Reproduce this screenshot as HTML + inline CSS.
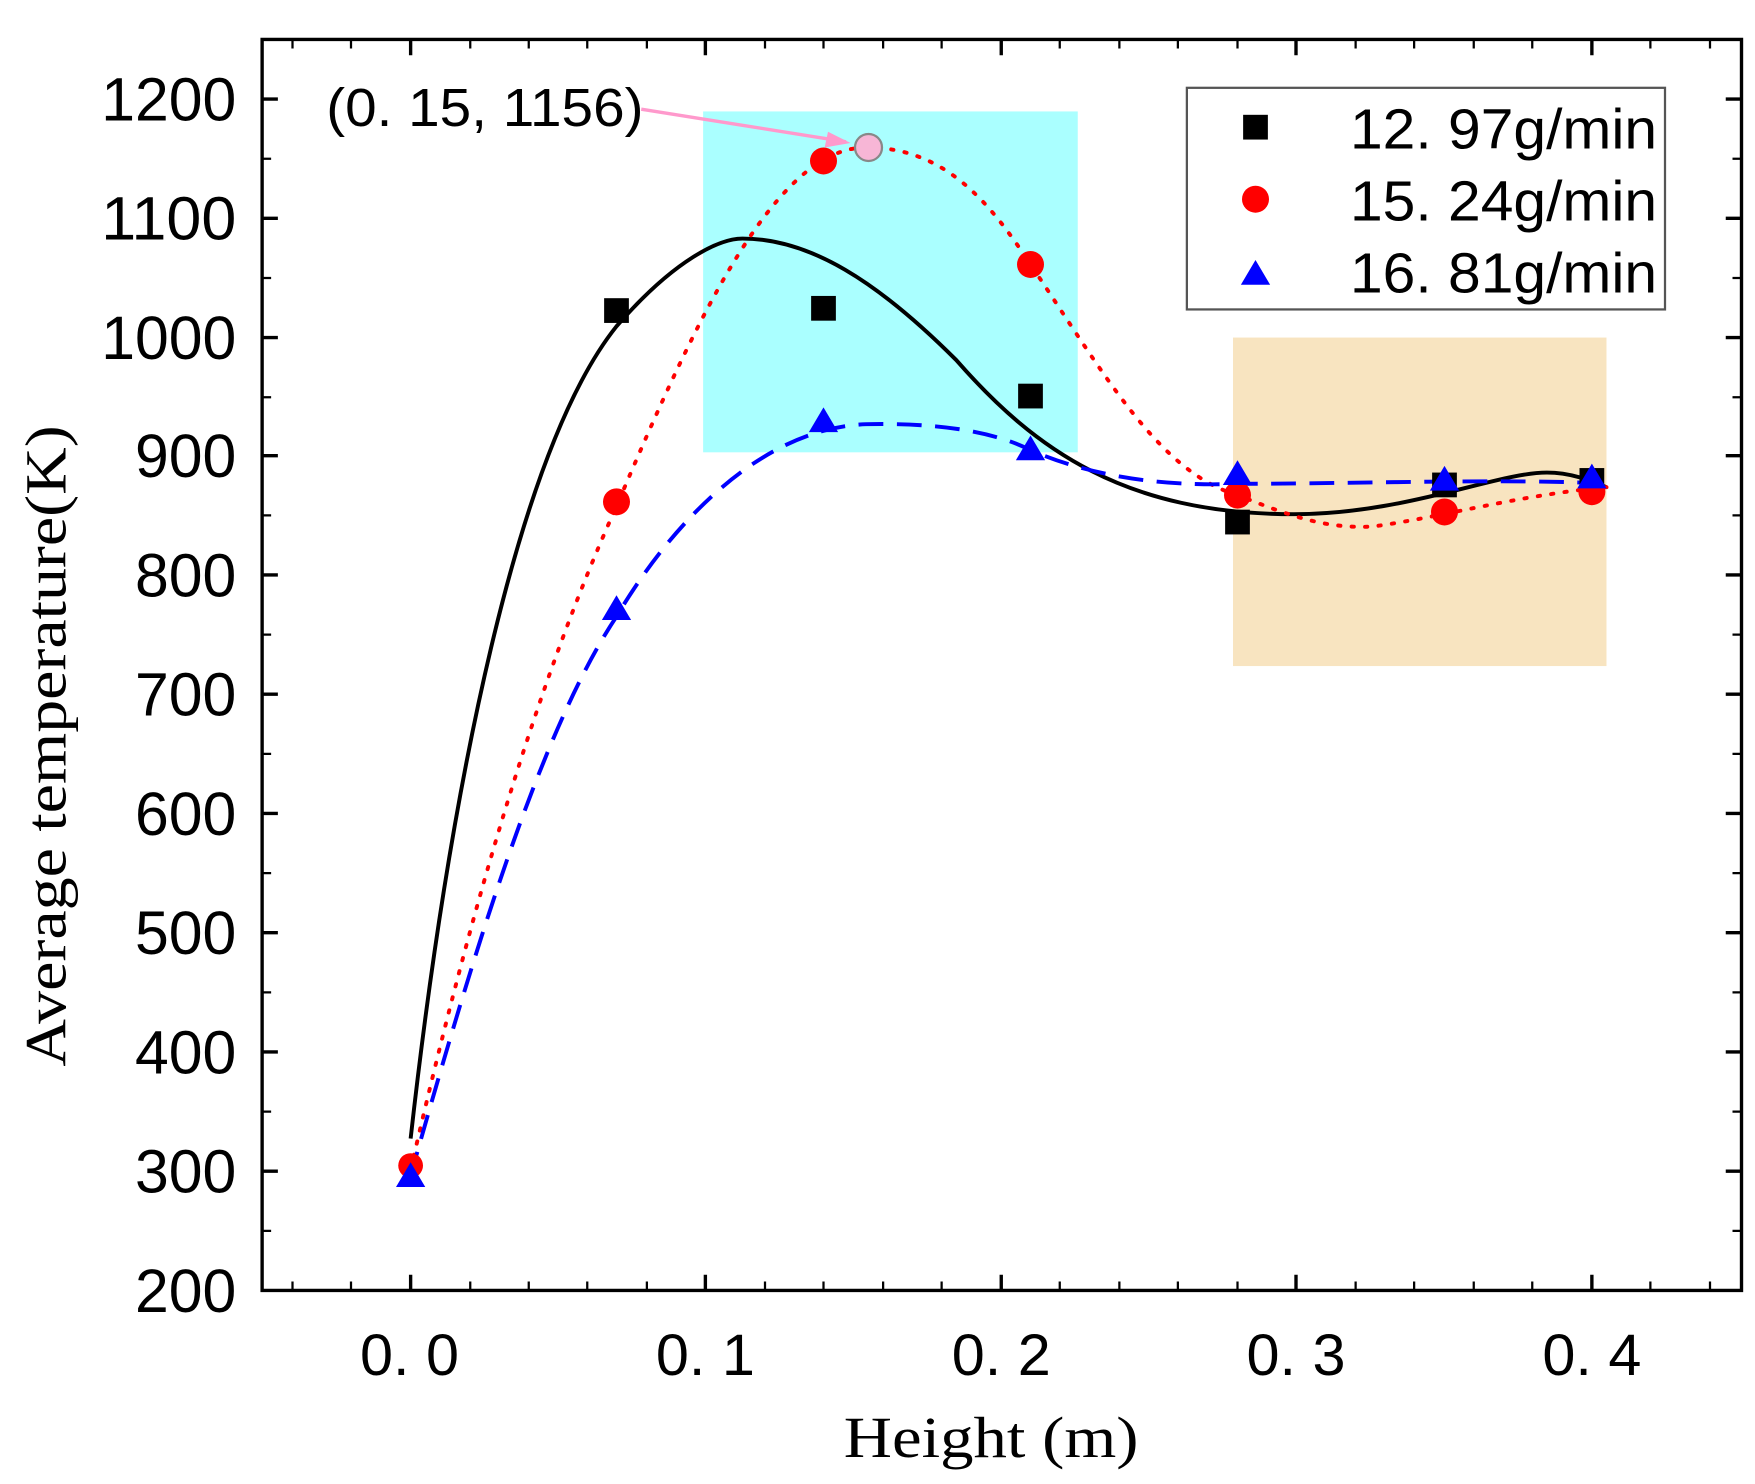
<!DOCTYPE html>
<html><head><style>html,body{margin:0;padding:0;background:#fff}svg{display:block}</style></head><body>
<svg width="1755" height="1484" viewBox="0 0 1560 1319" xmlns="http://www.w3.org/2000/svg">
<rect width="1560" height="1319" fill="#fff"/>
<rect x="625" y="99" width="333" height="303" fill="#aaffff"/>
<rect x="1096" y="300" width="332" height="292" fill="#f8e4c0"/>
<g stroke="#000" stroke-width="3">
<rect x="233" y="35" width="1315" height="1112" fill="none"/>
<path d="M233 88h14M233 194h14M233 300h14M233 405h14M233 511h14M233 617h14M233 723h14M233 829h14M233 935h14M233 1041h14"/>
<path d="M233 141h8M233 247h8M233 353h8M233 458h8M233 564h8M233 670h8M233 776h8M233 882h8M233 988h8M233 1094h8" stroke-width="2"/>
<path d="M1548 88h-14M1548 194h-14M1548 300h-14M1548 405h-14M1548 511h-14M1548 617h-14M1548 723h-14M1548 829h-14M1548 935h-14M1548 1041h-14"/>
<path d="M1548 141h-8M1548 247h-8M1548 353h-8M1548 458h-8M1548 564h-8M1548 670h-8M1548 776h-8M1548 882h-8M1548 988h-8M1548 1094h-8" stroke-width="2"/>
<path d="M365 1147v-14M627 1147v-14M890 1147v-14M1152 1147v-14M1415 1147v-14M365 35v14M627 35v14M890 35v14M1152 35v14M1415 35v14"/>
<path d="M260 1147v-8M312 1147v-8M418 1147v-8M470 1147v-8M522 1147v-8M575 1147v-8M680 1147v-8M732 1147v-8M785 1147v-8M837 1147v-8M942 1147v-8M995 1147v-8M1047 1147v-8M1100 1147v-8M1205 1147v-8M1257 1147v-8M1310 1147v-8M1362 1147v-8M1467 1147v-8M1520 1147v-8M260 35v8M312 35v8M418 35v8M470 35v8M522 35v8M575 35v8M680 35v8M732 35v8M785 35v8M837 35v8M942 35v8M995 35v8M1047 35v8M1100 35v8M1205 35v8M1257 35v8M1310 35v8M1362 35v8M1467 35v8M1520 35v8" stroke-width="2"/>
</g>
<g font-family="Liberation Sans, sans-serif" font-size="54" text-anchor="end" fill="#000" lengthAdjust="spacingAndGlyphs">
<text x="210" y="107" textLength="120" lengthAdjust="spacingAndGlyphs">1200</text><text x="210" y="213" textLength="120" lengthAdjust="spacingAndGlyphs">1100</text><text x="210" y="319" textLength="120" lengthAdjust="spacingAndGlyphs">1000</text><text x="210" y="424" textLength="90" lengthAdjust="spacingAndGlyphs">900</text><text x="210" y="530" textLength="90" lengthAdjust="spacingAndGlyphs">800</text><text x="210" y="636" textLength="90" lengthAdjust="spacingAndGlyphs">700</text><text x="210" y="742" textLength="90" lengthAdjust="spacingAndGlyphs">600</text><text x="210" y="848" textLength="90" lengthAdjust="spacingAndGlyphs">500</text><text x="210" y="954" textLength="90" lengthAdjust="spacingAndGlyphs">400</text><text x="210" y="1060" textLength="90" lengthAdjust="spacingAndGlyphs">300</text><text x="210" y="1166" textLength="90" lengthAdjust="spacingAndGlyphs">200</text>
</g>
<g font-family="Liberation Sans, sans-serif" font-size="52" fill="#000">
<text x="320" y="1222" textLength="88" lengthAdjust="spacingAndGlyphs">0. 0</text><text x="583" y="1222" textLength="88" lengthAdjust="spacingAndGlyphs">0. 1</text><text x="846" y="1222" textLength="88" lengthAdjust="spacingAndGlyphs">0. 2</text><text x="1108" y="1222" textLength="88" lengthAdjust="spacingAndGlyphs">0. 3</text><text x="1371" y="1222" textLength="88" lengthAdjust="spacingAndGlyphs">0. 4</text>
</g>
<text x="750" y="1295" textLength="262" lengthAdjust="spacingAndGlyphs" font-family="Liberation Serif, serif" font-size="52">Height (m)</text>
<text transform="translate(58 948) rotate(-90)" textLength="570" lengthAdjust="spacingAndGlyphs" font-family="Liberation Serif, serif" font-size="52">Average temperature(K)</text>
<path d="M365 1012 C400 700,460 400,548 290 C600 230,640 212,660 212 C720 212,780 250,850 320 C920 400,1000 457,1150 457 C1250 457,1330 420,1375 420 C1400 420,1420 430,1428 433" fill="none" stroke="#000" stroke-width="3.5"/>
<path d="M365 1040 C420 800,480 600,548 450 C620 280,690 131,770 131 C840 131,880 180,916 235 C980 330,1030 420,1100 440 C1150 460,1180 470,1220 468 C1280 460,1350 440,1428 433" fill="none" stroke="#f00" stroke-width="3.5" stroke-dasharray="2 10" stroke-linecap="round"/>
<path d="M365 1045 C420 850,480 650,548 548 C600 460,680 380,770 377 C860 375,900 392,916 400 C980 428,1050 432,1100 430 C1200 430,1350 425,1428 430" fill="none" stroke="#0000ff" stroke-width="3.5" stroke-dasharray="22 12"/>
<g fill="#000">
<rect x="537" y="265" width="22" height="22"/><rect x="721" y="263" width="22" height="22"/><rect x="905" y="341" width="22" height="22"/><rect x="1089" y="453" width="22" height="22"/><rect x="1273" y="420" width="22" height="22"/><rect x="1404" y="416" width="22" height="22"/>
</g>
<g fill="#f00">
<circle cx="365" cy="1036" r="11"/><circle cx="548" cy="446" r="12"/><circle cx="732" cy="143" r="12"/><circle cx="916" cy="235" r="12"/><circle cx="1100" cy="440" r="12"/><circle cx="1284" cy="455" r="12"/><circle cx="1415" cy="437" r="12"/>
</g>
<g fill="#0000ff">
<path d="M365 1033l13 22h-26z"/><path d="M548 529l13 22h-26z"/><path d="M732 362l13 22h-26z"/><path d="M916 387l13 22h-26z"/><path d="M1100 409l13 22h-26z"/><path d="M1284 414l13 22h-26z"/><path d="M1415 412l13 22h-26z"/>
</g>
<circle cx="772" cy="131" r="12" fill="#f7b6d6" stroke="#888" stroke-width="2"/>
<path d="M570 97 L752 126" stroke="#ff99cc" stroke-width="3"/><path d="M756 127 l-20 -10 l-3 14z" fill="#ff99cc"/>
<text x="290" y="112" textLength="282" lengthAdjust="spacingAndGlyphs" font-family="Liberation Sans, sans-serif" font-size="48">(0. 15, 1156)</text>
<rect x="1055" y="78" width="425" height="197" fill="#fff" stroke="#555" stroke-width="2"/>
<rect x="1105" y="102" width="22" height="22"/>
<circle cx="1116" cy="177" r="12" fill="#f00"/>
<path d="M1116 231l13 22h-26z" fill="#0000ff"/>
<g font-family="Liberation Sans, sans-serif" font-size="50">
<text x="1200" y="132" textLength="273" lengthAdjust="spacingAndGlyphs">12. 97g/min</text><text x="1200" y="196" textLength="273" lengthAdjust="spacingAndGlyphs">15. 24g/min</text><text x="1200" y="260" textLength="273" lengthAdjust="spacingAndGlyphs">16. 81g/min</text>
</g>
</svg>
</body></html>
